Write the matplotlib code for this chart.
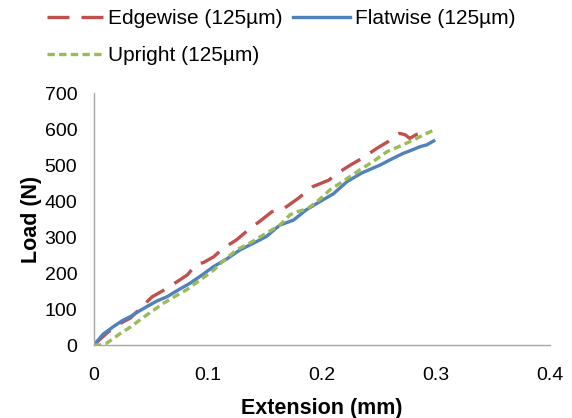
import matplotlib
matplotlib.use("Agg")
import matplotlib.pyplot as plt

plt.rcParams['font.family'] = ['Liberation Sans', 'DejaVu Sans']

# Edgewise (125µm)
edge_x = [0.000, 0.005, 0.012, 0.020, 0.032, 0.040, 0.051, 0.060, 0.073, 0.082, 0.090, 0.096,
          0.105, 0.113, 0.125, 0.137, 0.146, 0.156, 0.167, 0.179, 0.192, 0.206, 0.215, 0.225,
          0.236, 0.248, 0.258, 0.264, 0.268, 0.273, 0.277, 0.283, 0.290]
edge_y = [0, 15, 35, 55, 75, 100, 134, 150, 176, 195, 225, 229,
          245, 268, 292, 324, 345, 370, 380, 407, 440, 458, 480, 500,
          520, 546, 565, 582, 588, 584, 574, 585, 590]

# Flatwise (125µm)
flat_x = [0.000, 0.008, 0.017, 0.025, 0.032, 0.040, 0.046, 0.055, 0.064, 0.075, 0.084, 0.095,
          0.105, 0.117, 0.128, 0.140, 0.151, 0.163, 0.175, 0.186, 0.198, 0.210, 0.222, 0.235,
          0.251, 0.262, 0.271, 0.280, 0.286, 0.292, 0.298]
flat_y = [0, 30, 51, 68, 79, 95, 106, 122, 134, 155, 171, 195,
          218, 240, 264, 283, 301, 333, 347, 375, 398, 420, 454, 478,
          500, 518, 532, 543, 551, 556, 567]

# Upright (125µm)
up_x = [0.000, 0.005, 0.011, 0.017, 0.023, 0.032, 0.040, 0.050, 0.061, 0.071, 0.081, 0.093,
        0.105, 0.115, 0.125, 0.136, 0.146, 0.155, 0.163, 0.172, 0.180, 0.187, 0.197, 0.207,
        0.220, 0.233, 0.245, 0.257, 0.268, 0.280, 0.290, 0.298]
up_y = [0, 0, 5, 18, 32, 50, 69, 92, 116, 135, 153, 180,
        208, 238, 264, 282, 301, 318, 333, 362, 372, 378, 402, 431,
        458, 486, 510, 537, 552, 569, 585, 597]

x_ticks = [0, 0.1, 0.2, 0.3, 0.4]
x_tick_labels = ['0', '0.1', '0.2', '0.3', '0.4']
y_ticks = [0, 100, 200, 300, 400, 500, 600, 700]

fig = plt.figure(figsize=(5.72, 4.18), dpi=100)
ax = fig.add_axes([0.1643, 0.1746, 0.9615 - 0.1643, 0.7775 - 0.1746])

l1, = ax.plot(edge_x, edge_y, color='#C0504D', lw=2.4, linestyle=(0, (6.6, 3.6)),
              label='Edgewise (125µm)')
l2, = ax.plot(flat_x, flat_y, color='#4F81BD', lw=2.4, linestyle='-',
              label='Flatwise (125µm)')
l3, = ax.plot(up_x, up_y, color='#9BBB59', lw=2.4, linestyle=(0, (2.2, 1.3)),
              label='Upright (125µm)')

ax.set_xlim(0, 0.4)
ax.set_ylim(0, 700)
ax.set_xticks(x_ticks)
ax.set_xticklabels(x_tick_labels)
ax.set_yticks(y_ticks)
ax.tick_params(axis='both', length=0, labelsize=14, colors='#000000')
ax.tick_params(axis='y', pad=12)
ax.tick_params(axis='x', pad=16)
for s in ['top', 'right']:
    ax.spines[s].set_visible(False)
for s in ['left', 'bottom']:
    ax.spines[s].set_color('#A6A6A6')
    ax.spines[s].set_linewidth(1.0)

ax.set_xlabel('Extension (mm)', fontsize=15.5, fontweight='bold', labelpad=10)
ax.set_ylabel('Load (N)', fontsize=15.5, fontweight='bold', labelpad=2)

fig.legend(handles=[l1, l3, l2], ncol=2, loc='upper left',
           bbox_to_anchor=(0.082, 0.978), frameon=False, fontsize=15,
           borderpad=0, borderaxespad=0,
           handlelength=2.7, columnspacing=0.5, labelspacing=0.85, handletextpad=0.25)

fig.savefig('out.png', dpi=100)
